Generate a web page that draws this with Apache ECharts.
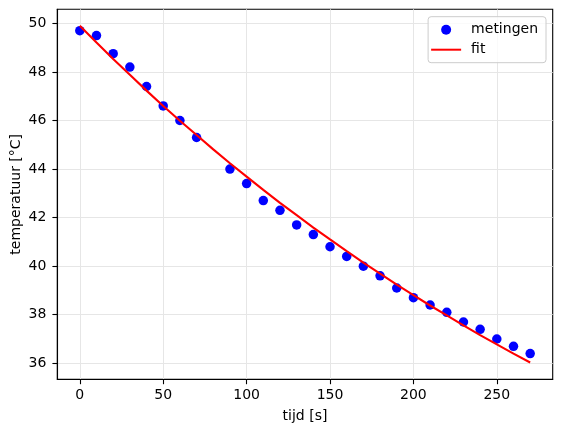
<!DOCTYPE html>
<html>
<head>
<meta charset="utf-8">
<script src="https://cdn.jsdelivr.net/npm/echarts@6/dist/echarts.min.js"></script>
<style>
html,body{margin:0;padding:0;background:#fff;}
#c{width:562px;height:432px;}
</style>
</head>
<body>
<div id="c"></div>
<script>
// measurements (tijd [s], temperatuur [°C])
var measTime = [0,10,20,30,40,50,60,70,90,100,110,120,130,140,150,160,170,180,190,200,210,220,230,240,250,260,270];
var measTemp = [49.7,49.5,48.75,48.2,47.4,46.6,46.0,45.3,44.0,43.4,42.7,42.3,41.7,41.3,40.8,40.4,40.0,39.6,39.1,38.7,38.4,38.1,37.7,37.4,37.0,36.7,36.4];
// fit curve
var fitTime = [0,10,20,30,40,50,60,70,80,90,100,110,120,130,140,150,160,170,180,190,200,210,220,230,240,250,260,270];
var fitTemp = [49.90,49.21,48.53,47.88,47.23,46.60,45.99,45.40,44.81,44.24,43.69,43.14,42.61,42.10,41.59,41.10,40.62,40.15,39.69,39.24,38.81,38.38,37.97,37.56,37.16,36.78,36.40,36.03];
// tick labels
var xTicks = [0,50,100,150,200,250];
var yTicks = [36,38,40,42,44,46,48,50];

var FONT = 'DejaVu Sans';
var measData = measTime.map(function(t,i){return [t, measTemp[i]];});
var fitData = fitTime.map(function(t,i){return [t, fitTemp[i]];});

var chart = echarts.init(document.getElementById('c'), null, {renderer:'canvas'});
chart.setOption({
  animation:false,
  backgroundColor:'#fff',
  textStyle:{fontFamily:FONT},
  grid:{left:57.3, right:9.3, top:9.3, bottom:52.7, containLabel:false, outerBoundsMode:'none',
        show:true, borderColor:'#000', borderWidth:1.1, backgroundColor:'transparent'},
  legend:{
    right:16, top:16.7, orient:'vertical',
    itemWidth:30, itemHeight:10, itemGap:6,
    padding:[6,8,6,3],
    backgroundColor:'rgba(255,255,255,0.8)', borderColor:'#cccccc', borderWidth:1, borderRadius:3,
    textStyle:{fontFamily:FONT, fontSize:14, color:'#000', padding:[0,0,0,5]},
    data:[
      {name:'metingen', icon:'circle'},
      {name:'fit', icon:'path://M0,0 L30,0 L30,2 L0,2 Z'}
    ]
  },
  xAxis:{
    type:'value', min:-13.5, max:283.5,
    name:'tijd [s]', nameLocation:'middle', nameGap:30.5, nameMoveOverlap:false,
    nameTextStyle:{fontFamily:FONT, fontSize:14, color:'#000'},
    axisLine:{show:true, onZero:false, lineStyle:{color:'#000', width:1.1}},
    axisTick:{show:true, inside:false, length:4.9, lineStyle:{color:'#000', width:1.1}, customValues:xTicks},
    axisLabel:{fontFamily:FONT, fontSize:14, color:'#000', margin:9.5, customValues:xTicks},
    splitLine:{show:true, lineStyle:{color:'#e6e6e6', width:1}}
  },
  yAxis:{
    type:'value', min:35.34, max:50.58,
    name:'temperatuur [°C]', nameLocation:'middle', nameGap:34, nameRotate:90, nameMoveOverlap:false,
    nameTextStyle:{fontFamily:FONT, fontSize:14, color:'#000'},
    axisLine:{show:true, onZero:false, lineStyle:{color:'#000', width:1.1}},
    axisTick:{show:true, inside:false, length:4.9, lineStyle:{color:'#000', width:1.1}, customValues:yTicks},
    axisLabel:{fontFamily:FONT, fontSize:14, color:'#000', margin:11, customValues:yTicks},
    splitLine:{show:true, lineStyle:{color:'#e6e6e6', width:1}}
  },
  series:[
    {name:'metingen', type:'scatter', data:measData, symbol:'circle', symbolSize:9.5,
     itemStyle:{color:'#0000ff', opacity:1}},
    {name:'fit', type:'line', data:fitData, symbol:'none', showSymbol:false, smooth:false,
     lineStyle:{color:'#ff0000', width:2.1}, itemStyle:{color:'#ff0000'}}
  ]
});
</script>
</body>
</html>
